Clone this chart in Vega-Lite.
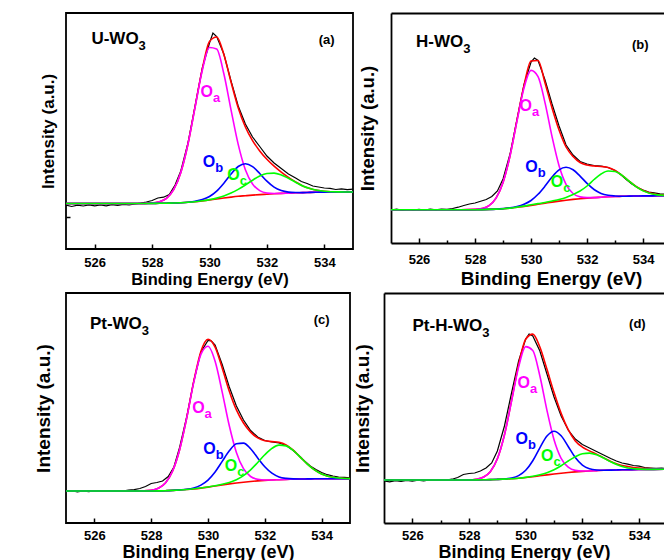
{
"$schema": "https://vega.github.io/schema/vega-lite/v6.json",
"padding": {"left": 33, "top": 12, "right": 0, "bottom": 0},
"background": "#ffffff",
"config": {
 "view": {"stroke": "#000000", "strokeWidth": 1.8},
 "axis": {"labelFont": "Liberation Sans", "titleFont": "Liberation Sans", "labelFontWeight": "bold", "titleFontWeight": "bold", "labelColor": "#000000", "titleColor": "#000000", "tickColor": "#000000", "domainColor": "#000000", "tickWidth": 1.5, "domainWidth": 1.8, "grid": false, "labelFlush": false},
 "text": {"font": "Liberation Sans", "fontWeight": "bold"}
},
"datasets": {
 "raw": [
  {"p":"a","x":525,"y":43.8},{"p":"a","x":525.2,"y":42.5},{"p":"a","x":525.4,"y":43.9},{"p":"a","x":525.6,"y":43},{"p":"a","x":525.8,"y":44.2},{"p":"a","x":526,"y":43.2},{"p":"a","x":526.2,"y":44},{"p":"a","x":526.4,"y":43.1},{"p":"a","x":526.6,"y":44.3},{"p":"a","x":526.8,"y":43.6},{"p":"a","x":527,"y":44.6},{"p":"a","x":527.2,"y":44},{"p":"a","x":527.4,"y":45},{"p":"a","x":527.6,"y":45.8},{"p":"a","x":527.8,"y":47},{"p":"a","x":528,"y":48.5},{"p":"a","x":528.2,"y":51},{"p":"a","x":528.4,"y":51.8},{"p":"a","x":528.6,"y":54.5},{"p":"a","x":528.8,"y":64},{"p":"a","x":529,"y":78},{"p":"a","x":529.25,"y":106},{"p":"a","x":529.5,"y":143.5},{"p":"a","x":529.75,"y":181},{"p":"a","x":530,"y":206},{"p":"a","x":530.12,"y":216},{"p":"a","x":530.25,"y":212.5},{"p":"a","x":530.5,"y":195},{"p":"a","x":530.75,"y":168},{"p":"a","x":531,"y":143},{"p":"a","x":531.25,"y":125},{"p":"a","x":531.5,"y":112},{"p":"a","x":531.75,"y":102.5},{"p":"a","x":532,"y":93},{"p":"a","x":532.25,"y":86},{"p":"a","x":532.5,"y":80.5},{"p":"a","x":532.75,"y":75},{"p":"a","x":533,"y":71},{"p":"a","x":533.2,"y":67.5},{"p":"a","x":533.4,"y":65.5},{"p":"a","x":533.6,"y":63},{"p":"a","x":533.8,"y":62},{"p":"a","x":534,"y":61},{"p":"a","x":534.2,"y":60.6},{"p":"a","x":534.4,"y":59.5},{"p":"a","x":534.6,"y":60.2},{"p":"a","x":534.8,"y":59.4},{"p":"a","x":535,"y":59.8},
  {"p":"b","x":525,"y":33},{"p":"b","x":525.2,"y":33.8},{"p":"b","x":525.4,"y":32.6},{"p":"b","x":525.6,"y":33.5},{"p":"b","x":525.8,"y":32.8},{"p":"b","x":526,"y":33.6},{"p":"b","x":526.2,"y":33},{"p":"b","x":526.4,"y":33.9},{"p":"b","x":526.6,"y":33.2},{"p":"b","x":526.8,"y":34},{"p":"b","x":527,"y":33.6},{"p":"b","x":527.2,"y":34.5},{"p":"b","x":527.4,"y":35.8},{"p":"b","x":527.6,"y":37.5},{"p":"b","x":527.8,"y":39},{"p":"b","x":528,"y":40},{"p":"b","x":528.2,"y":41.8},{"p":"b","x":528.4,"y":43.5},{"p":"b","x":528.6,"y":46.5},{"p":"b","x":528.8,"y":52},{"p":"b","x":529,"y":64},{"p":"b","x":529.25,"y":89},{"p":"b","x":529.5,"y":124},{"p":"b","x":529.75,"y":158.5},{"p":"b","x":530,"y":181},{"p":"b","x":530.12,"y":185},{"p":"b","x":530.25,"y":182.5},{"p":"b","x":530.5,"y":163},{"p":"b","x":530.75,"y":139},{"p":"b","x":531,"y":117},{"p":"b","x":531.25,"y":98},{"p":"b","x":531.5,"y":88},{"p":"b","x":531.75,"y":81.5},{"p":"b","x":532,"y":79},{"p":"b","x":532.25,"y":77.5},{"p":"b","x":532.5,"y":76.8},{"p":"b","x":532.75,"y":75.5},{"p":"b","x":533,"y":72.5},{"p":"b","x":533.2,"y":68.5},{"p":"b","x":533.4,"y":63.5},{"p":"b","x":533.6,"y":59},{"p":"b","x":533.8,"y":55.5},{"p":"b","x":534,"y":53},{"p":"b","x":534.2,"y":51},{"p":"b","x":534.4,"y":50.2},{"p":"b","x":534.6,"y":49.2},{"p":"b","x":534.8,"y":48.9},{"p":"b","x":535,"y":48.4},
  {"p":"c","x":525,"y":31.5},{"p":"c","x":525.2,"y":32.3},{"p":"c","x":525.4,"y":31.2},{"p":"c","x":525.6,"y":32},{"p":"c","x":525.8,"y":31.4},{"p":"c","x":526,"y":32.2},{"p":"c","x":526.2,"y":31.6},{"p":"c","x":526.4,"y":32.4},{"p":"c","x":526.6,"y":31.8},{"p":"c","x":526.8,"y":32.5},{"p":"c","x":527,"y":32},{"p":"c","x":527.2,"y":32.8},{"p":"c","x":527.4,"y":33.4},{"p":"c","x":527.6,"y":34.5},{"p":"c","x":527.8,"y":36.5},{"p":"c","x":528,"y":39.5},{"p":"c","x":528.2,"y":40.5},{"p":"c","x":528.4,"y":42},{"p":"c","x":528.6,"y":46.5},{"p":"c","x":528.8,"y":56},{"p":"c","x":529,"y":75.5},{"p":"c","x":529.25,"y":106},{"p":"c","x":529.5,"y":142},{"p":"c","x":529.75,"y":171},{"p":"c","x":530,"y":182.5},{"p":"c","x":530.12,"y":182},{"p":"c","x":530.25,"y":178},{"p":"c","x":530.5,"y":158.5},{"p":"c","x":530.75,"y":136},{"p":"c","x":531,"y":117},{"p":"c","x":531.25,"y":103},{"p":"c","x":531.5,"y":92.5},{"p":"c","x":531.75,"y":86},{"p":"c","x":532,"y":82.5},{"p":"c","x":532.25,"y":81},{"p":"c","x":532.5,"y":80},{"p":"c","x":532.75,"y":77.5},{"p":"c","x":533,"y":72.5},{"p":"c","x":533.2,"y":67.5},{"p":"c","x":533.4,"y":62},{"p":"c","x":533.6,"y":57},{"p":"c","x":533.8,"y":53.5},{"p":"c","x":534,"y":50.5},{"p":"c","x":534.2,"y":48.3},{"p":"c","x":534.4,"y":47},{"p":"c","x":534.6,"y":46},{"p":"c","x":534.8,"y":45.6},{"p":"c","x":535,"y":45.2},
  {"p":"d","x":525,"y":42},{"p":"d","x":525.2,"y":41.2},{"p":"d","x":525.4,"y":42.4},{"p":"d","x":525.6,"y":41.5},{"p":"d","x":525.8,"y":42.6},{"p":"d","x":526,"y":41.8},{"p":"d","x":526.2,"y":42.8},{"p":"d","x":526.4,"y":42},{"p":"d","x":526.6,"y":43.2},{"p":"d","x":526.8,"y":42.5},{"p":"d","x":527,"y":43.3},{"p":"d","x":527.2,"y":43},{"p":"d","x":527.4,"y":43.8},{"p":"d","x":527.6,"y":45.5},{"p":"d","x":527.8,"y":48.5},{"p":"d","x":528,"y":49.5},{"p":"d","x":528.2,"y":50},{"p":"d","x":528.4,"y":52},{"p":"d","x":528.6,"y":55},{"p":"d","x":528.8,"y":60},{"p":"d","x":529,"y":72},{"p":"d","x":529.25,"y":97},{"p":"d","x":529.5,"y":130},{"p":"d","x":529.75,"y":162},{"p":"d","x":530,"y":184},{"p":"d","x":530.12,"y":189},{"p":"d","x":530.25,"y":187},{"p":"d","x":530.5,"y":172},{"p":"d","x":530.75,"y":149},{"p":"d","x":531,"y":126},{"p":"d","x":531.25,"y":107},{"p":"d","x":531.5,"y":93},{"p":"d","x":531.75,"y":84},{"p":"d","x":532,"y":78.5},{"p":"d","x":532.25,"y":75},{"p":"d","x":532.5,"y":71.5},{"p":"d","x":532.75,"y":68},{"p":"d","x":533,"y":64.5},{"p":"d","x":533.2,"y":62},{"p":"d","x":533.4,"y":60},{"p":"d","x":533.6,"y":58.8},{"p":"d","x":533.8,"y":57.5},{"p":"d","x":534,"y":56.8},{"p":"d","x":534.2,"y":55.5},{"p":"d","x":534.4,"y":55},{"p":"d","x":534.6,"y":54.6},{"p":"d","x":534.8,"y":54.9},{"p":"d","x":535,"y":54.5}
 ],
 "fit": [
  {"p":"a","x":525,"e":45.5,"bg":45.5,"a":45.5,"b":45.5,"c":45.5},
  {"p":"a","x":526,"e":45.5,"bg":45.5,"a":45.5,"b":45.5,"c":45.5},
  {"p":"a","x":527,"e":45.5,"bg":45.5,"a":45.5,"b":45.5,"c":45.5},
  {"p":"a","x":527.5,"e":45.5,"bg":45.5,"a":45.5,"b":45.5,"c":45.5},
  {"p":"a","x":528,"e":46,"bg":45.6,"a":46,"b":45.6,"c":45.6},
  {"p":"a","x":528.25,"e":47.3,"bg":45.7,"a":47.3,"b":45.7,"c":45.7},
  {"p":"a","x":528.5,"e":50.7,"bg":45.8,"a":50.7,"b":45.8,"c":45.8},
  {"p":"a","x":528.75,"e":59.3,"bg":46,"a":59.3,"b":46,"c":46},
  {"p":"a","x":529,"e":76.6,"bg":46.3,"a":76.6,"b":46.3,"c":46.3},
  {"p":"a","x":529.25,"e":105,"bg":46.7,"a":105,"b":46.8,"c":46.7},
  {"p":"a","x":529.5,"e":142.6,"bg":47.3,"a":142.2,"b":47.7,"c":47.3},
  {"p":"a","x":529.75,"e":180.1,"bg":48.1,"a":178.7,"b":49.4,"c":48.2},
  {"p":"a","x":530,"e":207.5,"bg":49,"a":201.5,"b":52.5,"c":49.4},
  {"p":"a","x":530.25,"e":212,"bg":50,"a":200,"b":57.9,"c":50.9},
  {"p":"a","x":530.5,"e":194.5,"bg":51,"a":175.2,"b":65.8,"c":53},
  {"p":"a","x":530.75,"e":167,"bg":51.9,"a":139.2,"b":74.9,"c":55.9},
  {"p":"a","x":531,"e":141.3,"bg":52.7,"a":104.6,"b":82.5,"c":59.6},
  {"p":"a","x":531.25,"e":122,"bg":53.3,"a":79.3,"b":85.3,"c":64},
  {"p":"a","x":531.5,"e":108.4,"bg":53.9,"a":65,"b":82.4,"c":68.8},
  {"p":"a","x":531.75,"e":98.1,"bg":54.4,"a":58.4,"b":75.5,"c":73},
  {"p":"a","x":532,"e":89.7,"bg":54.8,"a":56,"b":67.8,"c":75.5},
  {"p":"a","x":532.25,"e":82.8,"bg":55.2,"a":55.5,"b":61.8,"c":75.9},
  {"p":"a","x":532.5,"e":76.9,"bg":55.6,"a":55.6,"b":58.4,"c":74.1},
  {"p":"a","x":532.75,"e":71.7,"bg":55.9,"a":55.9,"b":56.9,"c":70.7},
  {"p":"a","x":533,"e":67.1,"bg":56.2,"a":56.2,"b":56.5,"c":66.8},
  {"p":"a","x":533.25,"e":63.1,"bg":56.4,"a":56.4,"b":56.4,"c":63.1},
  {"p":"a","x":533.5,"e":60.5,"bg":56.6,"a":56.6,"b":56.6,"c":60.5},
  {"p":"a","x":533.75,"e":58.8,"bg":56.8,"a":56.8,"b":56.8,"c":58.8},
  {"p":"a","x":534,"e":57.8,"bg":56.9,"a":56.9,"b":56.9,"c":57.8},
  {"p":"a","x":534.5,"e":57.1,"bg":57,"a":57,"b":57,"c":57.1},
  {"p":"a","x":535,"e":57,"bg":57,"a":57,"b":57,"c":57},
  {"p":"b","x":525,"e":33.3,"bg":33.3,"a":33.3,"b":33.3,"c":33.3},
  {"p":"b","x":526,"e":33.3,"bg":33.3,"a":33.3,"b":33.3,"c":33.3},
  {"p":"b","x":527,"e":33.3,"bg":33.3,"a":33.3,"b":33.3,"c":33.3},
  {"p":"b","x":527.5,"e":33.3,"bg":33.3,"a":33.3,"b":33.3,"c":33.3},
  {"p":"b","x":528,"e":33.6,"bg":33.3,"a":33.6,"b":33.3,"c":33.3},
  {"p":"b","x":528.25,"e":34.5,"bg":33.4,"a":34.5,"b":33.4,"c":33.4},
  {"p":"b","x":528.5,"e":37.4,"bg":33.6,"a":37.4,"b":33.6,"c":33.6},
  {"p":"b","x":528.75,"e":44.9,"bg":33.9,"a":44.9,"b":33.9,"c":33.9},
  {"p":"b","x":529,"e":60.6,"bg":34.3,"a":60.6,"b":34.4,"c":34.3},
  {"p":"b","x":529.25,"e":87.3,"bg":34.9,"a":87.2,"b":35.1,"c":34.9},
  {"p":"b","x":529.5,"e":123,"bg":35.7,"a":122.1,"b":36.4,"c":35.9},
  {"p":"b","x":529.75,"e":157.5,"bg":36.6,"a":155.1,"b":38.7,"c":36.9},
  {"p":"b","x":530,"e":182,"bg":37.6,"a":172.6,"b":42.5,"c":38.2},
  {"p":"b","x":530.25,"e":182.5,"bg":38.7,"a":166.4,"b":48.7,"c":39.4},
  {"p":"b","x":530.5,"e":160,"bg":39.8,"a":140.1,"b":56.9,"c":40.5},
  {"p":"b","x":530.75,"e":135,"bg":40.9,"a":106.3,"b":66,"c":42},
  {"p":"b","x":531,"e":113,"bg":41.9,"a":77.3,"b":73.1,"c":43.5},
  {"p":"b","x":531.25,"e":96,"bg":42.8,"a":58.7,"b":75.7,"c":45.5},
  {"p":"b","x":531.5,"e":86.5,"bg":43.6,"a":49.5,"b":73.2,"c":48.5},
  {"p":"b","x":531.75,"e":80.5,"bg":44.3,"a":46.1,"b":66.9,"c":52},
  {"p":"b","x":532,"e":78,"bg":44.9,"a":45.4,"b":59.6,"c":57},
  {"p":"b","x":532.25,"e":77,"bg":45.4,"a":45.4,"b":53.5,"c":63.5},
  {"p":"b","x":532.5,"e":76.5,"bg":45.8,"a":45.8,"b":49.6,"c":69},
  {"p":"b","x":532.75,"e":75.5,"bg":46.2,"a":46.2,"b":47.7,"c":72},
  {"p":"b","x":533,"e":72.5,"bg":46.5,"a":46.5,"b":47,"c":71.5},
  {"p":"b","x":533.25,"e":67.6,"bg":46.7,"a":46.7,"b":46.7,"c":67.6},
  {"p":"b","x":533.5,"e":61.9,"bg":46.9,"a":46.9,"b":46.9,"c":61.9},
  {"p":"b","x":533.75,"e":56.5,"bg":47,"a":47,"b":47,"c":56.3},
  {"p":"b","x":534,"e":52.5,"bg":47.1,"a":47.1,"b":47.1,"c":52.1},
  {"p":"b","x":534.5,"e":48.5,"bg":47.2,"a":47.2,"b":47.2,"c":48.1},
  {"p":"b","x":535,"e":47.6,"bg":47.3,"a":47.3,"b":47.3,"c":47.4},
  {"p":"c","x":525,"e":32,"bg":32,"a":32,"b":32,"c":32},
  {"p":"c","x":526,"e":32,"bg":32,"a":32,"b":32,"c":32},
  {"p":"c","x":527,"e":32,"bg":32,"a":32,"b":32,"c":32},
  {"p":"c","x":527.5,"e":32,"bg":32,"a":32,"b":32,"c":32},
  {"p":"c","x":528,"e":32.7,"bg":32,"a":32.7,"b":32,"c":32},
  {"p":"c","x":528.25,"e":34.7,"bg":32.1,"a":34.7,"b":32.1,"c":32.1},
  {"p":"c","x":528.5,"e":39.9,"bg":32.3,"a":39.9,"b":32.3,"c":32.3},
  {"p":"c","x":528.75,"e":51.7,"bg":32.6,"a":51.7,"b":32.6,"c":32.6},
  {"p":"c","x":529,"e":73.3,"bg":33,"a":73.3,"b":33.1,"c":33},
  {"p":"c","x":529.25,"e":105.1,"bg":33.5,"a":105,"b":33.7,"c":33.5},
  {"p":"c","x":529.5,"e":141.8,"bg":34.1,"a":140.8,"b":35.1,"c":34.2},
  {"p":"c","x":529.75,"e":171.6,"bg":34.9,"a":168.6,"b":37.9,"c":35},
  {"p":"c","x":530,"e":183.8,"bg":35.9,"a":176.7,"b":42.9,"c":36},
  {"p":"c","x":530.25,"e":175.9,"bg":37,"a":161.7,"b":51,"c":37.2},
  {"p":"c","x":530.5,"e":155,"bg":38.1,"a":130.9,"b":61.6,"c":38.7},
  {"p":"c","x":530.75,"e":131.8,"bg":39.1,"a":97.2,"b":72.2,"c":40.6},
  {"p":"c","x":531,"e":113.1,"bg":40,"a":70.6,"b":79.2,"c":43.3},
  {"p":"c","x":531.25,"e":100,"bg":40.8,"a":54.3,"b":79.9,"c":47.4},
  {"p":"c","x":531.5,"e":90.9,"bg":41.5,"a":46.5,"b":74.2,"c":53.2},
  {"p":"c","x":531.75,"e":85.1,"bg":42.1,"a":43.7,"b":65.1,"c":60.5},
  {"p":"c","x":532,"e":82.2,"bg":42.6,"a":43,"b":56.2,"c":68.2},
  {"p":"c","x":532.25,"e":81.4,"bg":43,"a":43,"b":49.8,"c":74.6},
  {"p":"c","x":532.5,"e":80.7,"bg":43.3,"a":43.3,"b":46.1,"c":77.9},
  {"p":"c","x":532.75,"e":78.1,"bg":43.6,"a":43.6,"b":44.6,"c":77.1},
  {"p":"c","x":533,"e":72.9,"bg":43.8,"a":43.8,"b":44.1,"c":72.6},
  {"p":"c","x":533.25,"e":65.9,"bg":44,"a":44,"b":44,"c":65.9},
  {"p":"c","x":533.5,"e":58.9,"bg":44.1,"a":44.1,"b":44.1,"c":58.9},
  {"p":"c","x":533.75,"e":53.1,"bg":44.2,"a":44.2,"b":44.2,"c":53.1},
  {"p":"c","x":534,"e":49,"bg":44.3,"a":44.3,"b":44.3,"c":49},
  {"p":"c","x":534.5,"e":45.2,"bg":44.3,"a":44.3,"b":44.3,"c":45.2},
  {"p":"c","x":535,"e":44.4,"bg":44.3,"a":44.3,"b":44.3,"c":44.4},
  {"p":"d","x":525,"e":43,"bg":43,"a":43,"b":43,"c":43},
  {"p":"d","x":526,"e":43,"bg":43,"a":43,"b":43,"c":43},
  {"p":"d","x":527,"e":43,"bg":43,"a":43,"b":43,"c":43},
  {"p":"d","x":527.5,"e":43,"bg":43,"a":43,"b":43,"c":43},
  {"p":"d","x":528,"e":43.1,"bg":43,"a":43.1,"b":43,"c":43},
  {"p":"d","x":528.25,"e":43.7,"bg":43.1,"a":43.7,"b":43.1,"c":43.1},
  {"p":"d","x":528.5,"e":45.7,"bg":43.2,"a":45.7,"b":43.2,"c":43.2},
  {"p":"d","x":528.75,"e":51.3,"bg":43.4,"a":51.3,"b":43.4,"c":43.4},
  {"p":"d","x":529,"e":64.2,"bg":43.6,"a":64.2,"b":43.6,"c":43.6},
  {"p":"d","x":529.25,"e":88.1,"bg":43.9,"a":88,"b":44,"c":43.9},
  {"p":"d","x":529.5,"e":122.3,"bg":44.3,"a":121.6,"b":45,"c":44.3},
  {"p":"d","x":529.75,"e":158.5,"bg":44.8,"a":155.9,"b":47.4,"c":44.8},
  {"p":"d","x":530,"e":183.7,"bg":45.5,"a":176.4,"b":52.7,"c":45.6},
  {"p":"d","x":530.25,"e":188.9,"bg":46.3,"a":172.5,"b":62.3,"c":46.7},
  {"p":"d","x":530.5,"e":176,"bg":47.2,"a":147,"b":75.2,"c":48.2},
  {"p":"d","x":530.75,"e":153.7,"bg":48.1,"a":112.7,"b":86.9,"c":50.3},
  {"p":"d","x":531,"e":130.4,"bg":49,"a":83.3,"b":91.8,"c":53.3},
  {"p":"d","x":531.25,"e":109.6,"bg":49.8,"a":64.7,"b":87.2,"c":57.3},
  {"p":"d","x":531.5,"e":93.3,"bg":50.5,"a":55.8,"b":76.5,"c":62},
  {"p":"d","x":531.75,"e":82.1,"bg":51.1,"a":52.6,"b":65.4,"c":66.3},
  {"p":"d","x":532,"e":75.9,"bg":51.6,"a":52,"b":57.8,"c":69.3},
  {"p":"d","x":532.25,"e":72.1,"bg":52,"a":52,"b":54.2,"c":69.9},
  {"p":"d","x":532.5,"e":68.9,"bg":52.4,"a":52.4,"b":53,"c":68.3},
  {"p":"d","x":532.75,"e":65.1,"bg":52.7,"a":52.7,"b":52.8,"c":65},
  {"p":"d","x":533,"e":61.5,"bg":52.9,"a":52.9,"b":52.9,"c":61.2},
  {"p":"d","x":533.25,"e":58.8,"bg":53.1,"a":53.1,"b":53.1,"c":58},
  {"p":"d","x":533.5,"e":57,"bg":53.3,"a":53.3,"b":53.3,"c":55.8},
  {"p":"d","x":533.75,"e":55.8,"bg":53.4,"a":53.4,"b":53.4,"c":54.5},
  {"p":"d","x":534,"e":55,"bg":53.5,"a":53.5,"b":53.5,"c":53.9},
  {"p":"d","x":534.5,"e":54.3,"bg":53.6,"a":53.6,"b":53.6,"c":53.6},
  {"p":"d","x":535,"e":54,"bg":53.7,"a":53.7,"b":53.7,"c":53.7}
 ],
 "names": [
  {"p":"a","x":527.53,"y":204.7,"t":"U-WO","s":"3"},
  {"p":"b","x":527.58,"y":195.7,"t":"H-WO","s":"3"},
  {"p":"c","x":527.67,"y":193.7,"t":"Pt-WO","s":"3"},
  {"p":"d","x":528.47,"y":192,"t":"Pt-H-WO","s":"3"}
 ],
 "tags": [
  {"p":"a","x":534.08,"y":209,"t":"(a)"},
  {"p":"b","x":533.9,"y":198,"t":"(b)"},
  {"p":"c","x":534.0,"y":203,"t":"(c)"},
  {"p":"d","x":533.94,"y":199.5,"t":"(d)"}
 ],
 "lbl": [
  {"p":"a","k":"a","x":530.12,"y":152.3},{"p":"a","k":"b","x":530.2,"y":82.3},{"p":"a","k":"c","x":531.05,"y":69},
  {"p":"b","k":"a","x":530.03,"y":132.3},{"p":"b","k":"b","x":530.24,"y":70.7},{"p":"b","k":"c","x":531.15,"y":55.7},
  {"p":"c","k":"a","x":529.88,"y":110.3},{"p":"c","k":"b","x":530.27,"y":68.7},{"p":"c","k":"c","x":531.03,"y":52},
  {"p":"d","k":"a","x":530.15,"y":135.3},{"p":"d","k":"b","x":530.08,"y":78.7},{"p":"d","k":"c","x":530.98,"y":62}
 ]
},
"spacing": 3,
"vconcat": [
 {"spacing": 4, "hconcat": [
  {"width": 287, "height": 236,
   "layer": [
    {"data": {"name": "raw"}, "transform": [{"filter": "datum.p == 'a'"}],
     "mark": {"type": "line", "color": "#000000", "strokeWidth": 1.2, "clip": true},
     "encoding": {
      "x": {"field": "x", "type": "quantitative", "scale": {"domain": [525, 535], "nice": false, "zero": false},
       "axis": {"title": "Binding Energy (eV)", "values": [526,527,528,529,530,531,532,533,534], "labelExpr": "datum.value % 2 == 0 ? datum.label : ''", "tickSize": {"condition": {"test": "datum.value % 2 == 1", "value": -3}, "value": -5}, "labelPadding": 12, "labelFontSize": 13, "titleFontSize": 16.5, "titlePadding": 2, "domain": false}},
      "y": {"field": "y", "type": "quantitative", "scale": {"domain": [0, 236], "nice": false, "zero": false},
       "axis": {"title": "Intensity (a.u.)", "labels": false, "values": [32], "tickSize": -4, "domain": false, "titleFontSize": 17, "titlePadding": 8}}
     }},
    {"data": {"name": "fit"}, "transform": [{"filter": "datum.p == 'a'"}, {"fold": ["e","bg","a","b","c"], "as": ["k","v"]}],
     "mark": {"type": "line", "strokeWidth": 1.6, "interpolate": "monotone", "clip": true},
     "encoding": {"x": {"field": "x", "type": "quantitative"}, "y": {"field": "v", "type": "quantitative"},
      "color": {"field": "k", "type": "nominal", "scale": {"domain": ["e","bg","a","b","c"], "range": ["#ff0000","#ff0000","#ff00ff","#0000ff","#00ff00"]}, "legend": null}}},
    {"data": {"name": "names"}, "transform": [{"filter": "datum.p == 'a'"}],
     "mark": {"type": "text", "align": "right", "baseline": "alphabetic", "fontSize": 17, "color": "#000000"},
     "encoding": {"x": {"field": "x", "type": "quantitative"}, "y": {"field": "y", "type": "quantitative"}, "text": {"field": "t"}}},
    {"data": {"name": "names"}, "transform": [{"filter": "datum.p == 'a'"}],
     "mark": {"type": "text", "align": "left", "baseline": "alphabetic", "fontSize": 13, "dy": 6, "color": "#000000"},
     "encoding": {"x": {"field": "x", "type": "quantitative"}, "y": {"field": "y", "type": "quantitative"}, "text": {"field": "s"}}},
    {"data": {"name": "tags"}, "transform": [{"filter": "datum.p == 'a'"}],
     "mark": {"type": "text", "align": "center", "baseline": "middle", "fontSize": 13, "color": "#000000"},
     "encoding": {"x": {"field": "x", "type": "quantitative"}, "y": {"field": "y", "type": "quantitative"}, "text": {"field": "t"}}},
    {"data": {"name": "lbl"}, "transform": [{"filter": "datum.p == 'a'"}],
     "mark": {"type": "text", "align": "right", "baseline": "alphabetic", "fontSize": 16},
     "encoding": {"x": {"field": "x", "type": "quantitative"}, "y": {"field": "y", "type": "quantitative"}, "text": {"value": "O"},
      "color": {"field": "k", "type": "nominal", "scale": {"domain": ["e","bg","a","b","c"], "range": ["#ff0000","#ff0000","#ff00ff","#0000ff","#00ff00"]}, "legend": null}}},
    {"data": {"name": "lbl"}, "transform": [{"filter": "datum.p == 'a'"}],
     "mark": {"type": "text", "align": "left", "baseline": "alphabetic", "fontSize": 13, "dy": 5},
     "encoding": {"x": {"field": "x", "type": "quantitative"}, "y": {"field": "y", "type": "quantitative"}, "text": {"field": "k"},
      "color": {"field": "k", "type": "nominal", "scale": {"domain": ["e","bg","a","b","c"], "range": ["#ff0000","#ff0000","#ff00ff","#0000ff","#00ff00"]}, "legend": null}}}
   ]},
  {"width": 277, "height": 230, "view": {"stroke": null},
   "resolve": {"axis": {"x": "independent"}},
   "layer": [
    {"data": {"name": "raw"}, "transform": [{"filter": "datum.p == 'b'"}],
     "mark": {"type": "line", "color": "#000000", "strokeWidth": 1.2, "clip": true},
     "encoding": {
      "x": {"field": "x", "type": "quantitative", "scale": {"domain": [525, 534.89], "nice": false, "zero": false},
       "axis": {"title": "Binding Energy (eV)", "values": [526,527,528,529,530,531,532,533,534], "labelExpr": "datum.value % 2 == 0 ? datum.label : ''", "tickSize": {"condition": {"test": "datum.value % 2 == 1", "value": -3}, "value": -5}, "labelPadding": 15, "labelFontSize": 13, "titleFontSize": 19, "titlePadding": 3, "titleX": 160, "domain": true}},
      "y": {"field": "y", "type": "quantitative", "scale": {"domain": [0, 230], "nice": false, "zero": false},
       "axis": {"title": "Intensity (a.u.)", "labels": false, "ticks": false, "domain": true, "titleFontSize": 18.5, "titlePadding": 14}}
     }},
    {"data": {"name": "fit"}, "transform": [{"filter": "datum.p == 'b'"}, {"fold": ["e","bg","a","b","c"], "as": ["k","v"]}],
     "mark": {"type": "line", "strokeWidth": 1.6, "interpolate": "monotone", "clip": true},
     "encoding": {"x": {"field": "x", "type": "quantitative", "axis": {"orient": "top", "labels": false, "ticks": false, "title": null, "domain": true}}, "y": {"field": "v", "type": "quantitative"},
      "color": {"field": "k", "type": "nominal", "scale": {"domain": ["e","bg","a","b","c"], "range": ["#ff0000","#ff0000","#ff00ff","#0000ff","#00ff00"]}, "legend": null}}},
    {"data": {"name": "names"}, "transform": [{"filter": "datum.p == 'b'"}],
     "mark": {"type": "text", "align": "right", "baseline": "alphabetic", "fontSize": 17, "color": "#000000"},
     "encoding": {"x": {"field": "x", "type": "quantitative", "axis": null}, "y": {"field": "y", "type": "quantitative"}, "text": {"field": "t"}}},
    {"data": {"name": "names"}, "transform": [{"filter": "datum.p == 'b'"}],
     "mark": {"type": "text", "align": "left", "baseline": "alphabetic", "fontSize": 13, "dy": 6, "color": "#000000"},
     "encoding": {"x": {"field": "x", "type": "quantitative", "axis": null}, "y": {"field": "y", "type": "quantitative"}, "text": {"field": "s"}}},
    {"data": {"name": "tags"}, "transform": [{"filter": "datum.p == 'b'"}],
     "mark": {"type": "text", "align": "center", "baseline": "middle", "fontSize": 13, "color": "#000000"},
     "encoding": {"x": {"field": "x", "type": "quantitative", "axis": null}, "y": {"field": "y", "type": "quantitative"}, "text": {"field": "t"}}},
    {"data": {"name": "lbl"}, "transform": [{"filter": "datum.p == 'b'"}],
     "mark": {"type": "text", "align": "right", "baseline": "alphabetic", "fontSize": 16},
     "encoding": {"x": {"field": "x", "type": "quantitative", "axis": null}, "y": {"field": "y", "type": "quantitative"}, "text": {"value": "O"},
      "color": {"field": "k", "type": "nominal", "scale": {"domain": ["e","bg","a","b","c"], "range": ["#ff0000","#ff0000","#ff00ff","#0000ff","#00ff00"]}, "legend": null}}},
    {"data": {"name": "lbl"}, "transform": [{"filter": "datum.p == 'b'"}],
     "mark": {"type": "text", "align": "left", "baseline": "alphabetic", "fontSize": 13, "dy": 5},
     "encoding": {"x": {"field": "x", "type": "quantitative", "axis": null}, "y": {"field": "y", "type": "quantitative"}, "text": {"field": "k"},
      "color": {"field": "k", "type": "nominal", "scale": {"domain": ["e","bg","a","b","c"], "range": ["#ff0000","#ff0000","#ff00ff","#0000ff","#00ff00"]}, "legend": null}}}
   ]}
 ]},
 {"spacing": 2, "hconcat": [
  {"width": 284, "height": 230,
   "layer": [
    {"data": {"name": "raw"}, "transform": [{"filter": "datum.p == 'c'"}],
     "mark": {"type": "line", "color": "#000000", "strokeWidth": 1.2, "clip": true},
     "encoding": {
      "x": {"field": "x", "type": "quantitative", "scale": {"domain": [525, 535], "nice": false, "zero": false},
       "axis": {"title": "Binding Energy (eV)", "values": [526,527,528,529,530,531,532,533,534], "labelExpr": "datum.value % 2 == 0 ? datum.label : ''", "tickSize": {"condition": {"test": "datum.value % 2 == 1", "value": -3}, "value": -5}, "labelPadding": 11, "labelFontSize": 13, "titleFontSize": 18, "titlePadding": 1, "domain": false}},
      "y": {"field": "y", "type": "quantitative", "scale": {"domain": [0, 230], "nice": false, "zero": false},
       "axis": {"title": "Intensity (a.u.)", "labels": false, "ticks": false, "domain": false, "titleFontSize": 19, "titlePadding": 13}}
     }},
    {"data": {"name": "fit"}, "transform": [{"filter": "datum.p == 'c'"}, {"fold": ["e","bg","a","b","c"], "as": ["k","v"]}],
     "mark": {"type": "line", "strokeWidth": 1.6, "interpolate": "monotone", "clip": true},
     "encoding": {"x": {"field": "x", "type": "quantitative"}, "y": {"field": "v", "type": "quantitative"},
      "color": {"field": "k", "type": "nominal", "scale": {"domain": ["e","bg","a","b","c"], "range": ["#ff0000","#ff0000","#ff00ff","#0000ff","#00ff00"]}, "legend": null}}},
    {"data": {"name": "names"}, "transform": [{"filter": "datum.p == 'c'"}],
     "mark": {"type": "text", "align": "right", "baseline": "alphabetic", "fontSize": 17, "color": "#000000"},
     "encoding": {"x": {"field": "x", "type": "quantitative"}, "y": {"field": "y", "type": "quantitative"}, "text": {"field": "t"}}},
    {"data": {"name": "names"}, "transform": [{"filter": "datum.p == 'c'"}],
     "mark": {"type": "text", "align": "left", "baseline": "alphabetic", "fontSize": 13, "dy": 6, "color": "#000000"},
     "encoding": {"x": {"field": "x", "type": "quantitative"}, "y": {"field": "y", "type": "quantitative"}, "text": {"field": "s"}}},
    {"data": {"name": "tags"}, "transform": [{"filter": "datum.p == 'c'"}],
     "mark": {"type": "text", "align": "center", "baseline": "middle", "fontSize": 13, "color": "#000000"},
     "encoding": {"x": {"field": "x", "type": "quantitative"}, "y": {"field": "y", "type": "quantitative"}, "text": {"field": "t"}}},
    {"data": {"name": "lbl"}, "transform": [{"filter": "datum.p == 'c'"}],
     "mark": {"type": "text", "align": "right", "baseline": "alphabetic", "fontSize": 16},
     "encoding": {"x": {"field": "x", "type": "quantitative"}, "y": {"field": "y", "type": "quantitative"}, "text": {"value": "O"},
      "color": {"field": "k", "type": "nominal", "scale": {"domain": ["e","bg","a","b","c"], "range": ["#ff0000","#ff0000","#ff00ff","#0000ff","#00ff00"]}, "legend": null}}},
    {"data": {"name": "lbl"}, "transform": [{"filter": "datum.p == 'c'"}],
     "mark": {"type": "text", "align": "left", "baseline": "alphabetic", "fontSize": 13, "dy": 5},
     "encoding": {"x": {"field": "x", "type": "quantitative"}, "y": {"field": "y", "type": "quantitative"}, "text": {"field": "k"},
      "color": {"field": "k", "type": "nominal", "scale": {"domain": ["e","bg","a","b","c"], "range": ["#ff0000","#ff0000","#ff00ff","#0000ff","#00ff00"]}, "legend": null}}}
   ]},
  {"width": 280, "height": 230, "view": {"stroke": null},
   "resolve": {"axis": {"x": "independent"}},
   "layer": [
    {"data": {"name": "raw"}, "transform": [{"filter": "datum.p == 'd'"}],
     "mark": {"type": "line", "color": "#000000", "strokeWidth": 1.2, "clip": true},
     "encoding": {
      "x": {"field": "x", "type": "quantitative", "scale": {"domain": [525, 534.88], "nice": false, "zero": false},
       "axis": {"title": "Binding Energy (eV)", "values": [526,527,528,529,530,531,532,533,534], "labelExpr": "datum.value % 2 == 0 ? datum.label : ''", "tickSize": {"condition": {"test": "datum.value % 2 == 1", "value": -3}, "value": -5}, "labelPadding": 11, "labelFontSize": 13, "titleFontSize": 18, "titlePadding": 1, "domain": true}},
      "y": {"field": "y", "type": "quantitative", "scale": {"domain": [0, 230], "nice": false, "zero": false},
       "axis": {"title": "Intensity (a.u.)", "labels": false, "ticks": false, "domain": true, "titleFontSize": 19, "titlePadding": 12}}
     }},
    {"data": {"name": "fit"}, "transform": [{"filter": "datum.p == 'd'"}, {"fold": ["e","bg","a","b","c"], "as": ["k","v"]}],
     "mark": {"type": "line", "strokeWidth": 1.6, "interpolate": "monotone", "clip": true},
     "encoding": {"x": {"field": "x", "type": "quantitative", "axis": {"orient": "top", "labels": false, "ticks": false, "title": null, "domain": true}}, "y": {"field": "v", "type": "quantitative"},
      "color": {"field": "k", "type": "nominal", "scale": {"domain": ["e","bg","a","b","c"], "range": ["#ff0000","#ff0000","#ff00ff","#0000ff","#00ff00"]}, "legend": null}}},
    {"data": {"name": "names"}, "transform": [{"filter": "datum.p == 'd'"}],
     "mark": {"type": "text", "align": "right", "baseline": "alphabetic", "fontSize": 17, "color": "#000000"},
     "encoding": {"x": {"field": "x", "type": "quantitative", "axis": null}, "y": {"field": "y", "type": "quantitative"}, "text": {"field": "t"}}},
    {"data": {"name": "names"}, "transform": [{"filter": "datum.p == 'd'"}],
     "mark": {"type": "text", "align": "left", "baseline": "alphabetic", "fontSize": 13, "dy": 6, "color": "#000000"},
     "encoding": {"x": {"field": "x", "type": "quantitative", "axis": null}, "y": {"field": "y", "type": "quantitative"}, "text": {"field": "s"}}},
    {"data": {"name": "tags"}, "transform": [{"filter": "datum.p == 'd'"}],
     "mark": {"type": "text", "align": "center", "baseline": "middle", "fontSize": 13, "color": "#000000"},
     "encoding": {"x": {"field": "x", "type": "quantitative", "axis": null}, "y": {"field": "y", "type": "quantitative"}, "text": {"field": "t"}}},
    {"data": {"name": "lbl"}, "transform": [{"filter": "datum.p == 'd'"}],
     "mark": {"type": "text", "align": "right", "baseline": "alphabetic", "fontSize": 16},
     "encoding": {"x": {"field": "x", "type": "quantitative", "axis": null}, "y": {"field": "y", "type": "quantitative"}, "text": {"value": "O"},
      "color": {"field": "k", "type": "nominal", "scale": {"domain": ["e","bg","a","b","c"], "range": ["#ff0000","#ff0000","#ff00ff","#0000ff","#00ff00"]}, "legend": null}}},
    {"data": {"name": "lbl"}, "transform": [{"filter": "datum.p == 'd'"}],
     "mark": {"type": "text", "align": "left", "baseline": "alphabetic", "fontSize": 13, "dy": 5},
     "encoding": {"x": {"field": "x", "type": "quantitative", "axis": null}, "y": {"field": "y", "type": "quantitative"}, "text": {"field": "k"},
      "color": {"field": "k", "type": "nominal", "scale": {"domain": ["e","bg","a","b","c"], "range": ["#ff0000","#ff0000","#ff00ff","#0000ff","#00ff00"]}, "legend": null}}}
   ]}
 ]}
]
}
